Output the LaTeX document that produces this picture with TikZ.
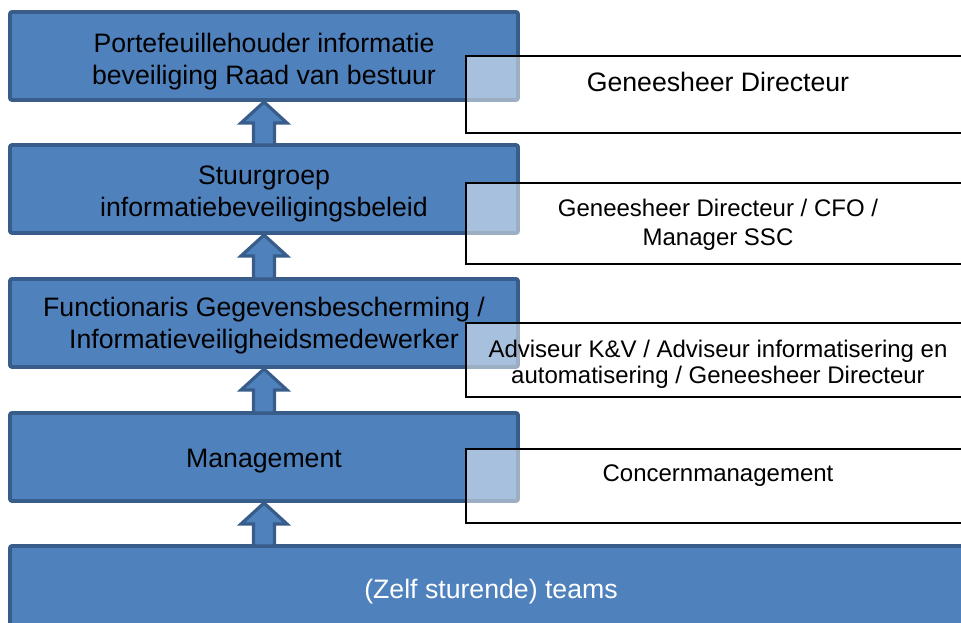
\documentclass[tikz,border=0pt]{standalone}
\usepackage{fontspec}
\setmainfont{Liberation Sans}
\usetikzlibrary{calc}
\definecolor{boxfill}{HTML}{4F81BD}
\definecolor{boxline}{HTML}{385D8A}
\tikzset{
  bluebox/.style={draw=boxline, fill=boxfill, line width=2.8pt, rounded corners=1.5pt,
    minimum width=381pt, minimum height=66pt, inner sep=0pt, outer sep=0pt},
  btext/.style={align=center, inner sep=0pt, font=\fontsize{20}{24}\selectfont, text=black},
  whitebox/.style={draw=black, line width=1.1pt, fill=white, fill opacity=0.5,
    minimum width=378pt, inner sep=0pt, outer sep=0pt},
  wtext/.style={align=center, text=black, inner sep=0pt},
  blockarrow/.style={draw=boxline, fill=boxfill, line width=2.4pt, line join=miter},
}
\begin{document}
\begin{tikzpicture}[x=0.75pt,y=-0.75pt]
\useasboundingbox (0,0) rectangle (961,623);
% blue level boxes
\node[bluebox] (b1) at (264,56) {};
\node[bluebox] (b2) at (264,189) {};
\node[bluebox] (b3) at (264,323) {};
\node[bluebox] (b4) at (264,457) {};
\node[bluebox, minimum width=721.5pt, minimum height=63pt] (b5) at (491,588) {};
\node[btext] (b1t) at ($(b1)+(0,6)$) {Portefeuillehouder informatie\\beveiliging Raad van bestuur};
\node[btext] (b2t) at ($(b2)+(0,5)$) {Stuurgroep\\informatiebeveiligingsbeleid};
\node[btext] (b3t) at ($(b3)+(0,3)$) {Functionaris Gegevensbescherming /\\Informatieveiligheidsmedewerker};
\node[btext] (b4t) at ($(b4)+(0,4)$) {Management};
\node[btext, text=white] (b5t) at ($(b5)+(0,4)$) {(Zelf sturende) teams};
% block arrows
\foreach \u/\l in {b1/b2, b2/b3, b3/b4, b4/b5}{
  \draw[blockarrow]
    ($(\u.south)+(0,2)$) -- ($(\u.south)+(23,23)$) -- ($(\u.south)+(10.5,23)$)
    -- ($(\u.south |- \l.north)+(10.5,0)$) -- ($(\u.south |- \l.north)+(-10.5,0)$)
    -- ($(\u.south)+(-10.5,23)$) -- ($(\u.south)+(-23,23)$) -- cycle;
}
% white side boxes
\node[whitebox, minimum height=57.75pt] (w1) at (718,94.5) {};
\node[whitebox, minimum height=60.75pt] (w2) at (718,223.5) {};
\node[whitebox, minimum height=55.5pt] (w3) at (718,360) {};
\node[whitebox, minimum height=55.5pt] (w4) at (718,486) {};
\node[wtext, font=\fontsize{20}{24}\selectfont] (t1) at (718,82) {Geneesheer Directeur};
\node[wtext, font=\fontsize{18}{22}\selectfont] (t2) at (718,225) {Geneesheer Directeur / CFO /\\Manager SSC};
\node[wtext, font=\fontsize{18}{19.5}\selectfont] (t3) at (718,364) {Adviseur K\&V / Adviseur informatisering en\\automatisering / Geneesheer Directeur};
\node[wtext, font=\fontsize{18}{22}\selectfont] (t4) at (718,476) {Concernmanagement};
\end{tikzpicture}
\end{document}
